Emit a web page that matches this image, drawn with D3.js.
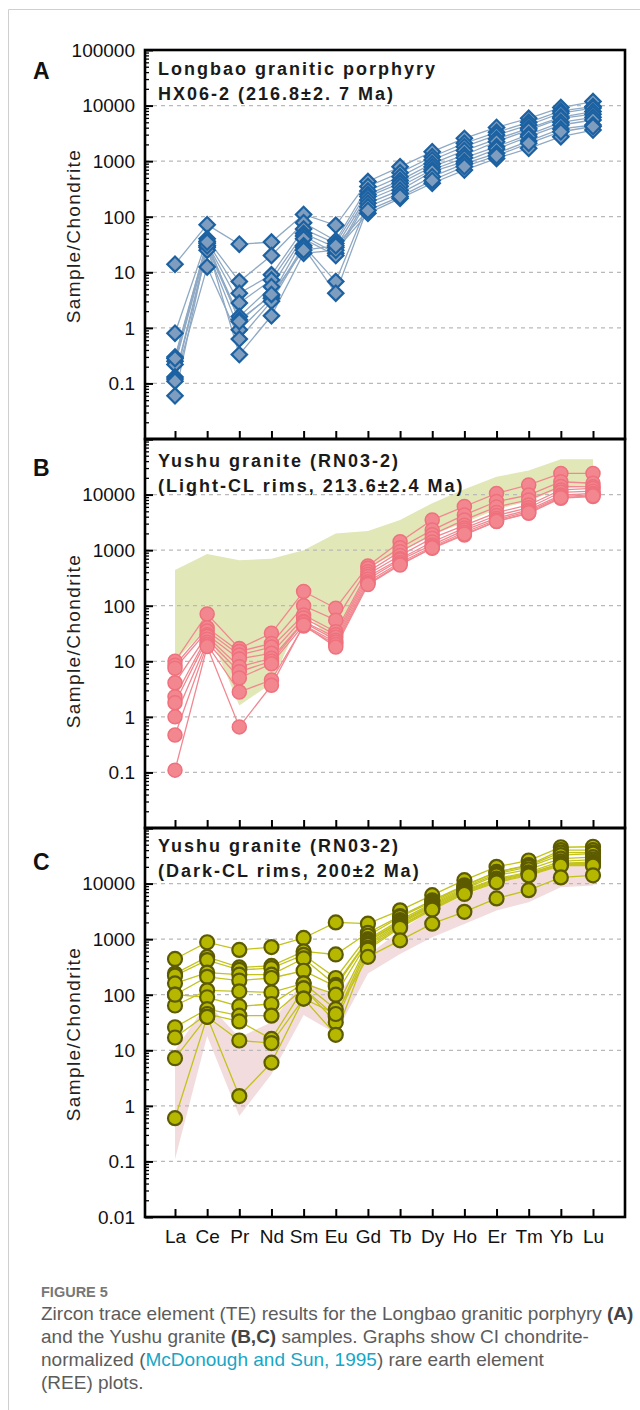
<!DOCTYPE html>
<html>
<head>
<meta charset="utf-8">
<script src="https://cdn.jsdelivr.net/npm/d3@7"></script>
<style>
  body { margin: 0; background: #fff; }
  svg text { font-family: "Liberation Sans", Arial, sans-serif; }
</style>
</head>
<body>
<div id="chart"></div>
<script>
// REE order along the x axis
const elements = ["La", "Ce", "Pr", "Nd", "Sm", "Eu", "Gd", "Tb", "Dy", "Ho", "Er", "Tm", "Yb", "Lu"];
const decades = [100000, 10000, 1000, 100, 10, 1, 0.1, 0.01];

// A: Longbao granitic porphyry HX06-2 (one row per zircon spot)
const seriesA = [
  [14, 72, 32, 35, 110, 70, 430, 790, 1480, 2570, 4050, 5900, 9200, 11800],
  [0.8, 40, 6.8, 20, 78, 37, 350, 620, 1200, 2100, 3300, 5000, 8000, 9600],
  [0.3, 36, 4.2, 9, 60, 33, 290, 525, 1050, 1820, 2950, 4470, 7300, 9000],
  [0.25, 33, 2.8, 7.3, 50, 28, 250, 450, 900, 1550, 2500, 3900, 6200, 7800],
  [0.22, 30, 1.6, 5.5, 45, 22, 230, 400, 794, 1290, 2240, 3630, 5900, 7000],
  [0.13, 28, 1.4, 3.8, 40, 20, 200, 350, 700, 1150, 1820, 3000, 5000, 6150],
  [0.12, 25, 0.92, 3.4, 30, 6.8, 174, 300, 646, 977, 1650, 2750, 4470, 5500],
  [0.11, 12.5, 0.63, 3.0, 28, 4.2, 151, 263, 525, 900, 1380, 2300, 3800, 4470],
  [0.06, 30, 0.33, 1.65, 22, 25, 115, 214, 400, 692, 1120, 1700, 2750, 3630],
  [0.28, 35, 1.3, 4.0, 25, 30, 130, 230, 450, 800, 1250, 2090, 3380, 4200]
];

// B: Yushu granite RN03-2, light-CL rims
const seriesB = [
  [10, 71, 17, 32, 180, 90, 520, 1420, 3500, 6100, 10500, 14900, 24000, 24000],
  [8.5, 40, 15, 21, 100, 55, 470, 1100, 2300, 4300, 7500, 9800, 17000, 16000],
  [7.5, 35, 13, 18, 68, 34, 410, 940, 1900, 3500, 6000, 8000, 14000, 13800],
  [4.1, 30, 11, 14, 60, 30, 370, 800, 1640, 2800, 4750, 6500, 12100, 12900],
  [2.3, 28, 8, 11.3, 52, 27, 334, 700, 1400, 2500, 4200, 5800, 11000, 11500],
  [1.8, 25, 6.5, 10, 50, 24, 300, 665, 1240, 2300, 3750, 5300, 9800, 10500],
  [1.0, 22, 5, 9, 45, 22, 270, 600, 1150, 2100, 3500, 5000, 9200, 10000],
  [0.47, 20, 2.8, 4.6, 43, 20, 250, 560, 1080, 1880, 3280, 4600, 8600, 9200],
  [0.11, 18.4, 0.66, 3.7, 45, 18, 240, 540, 1100, 1950, 3300, 4700, 8800, 9500]
];

// C: Yushu granite RN03-2, dark-CL rims
const seriesC = [
  [440, 880, 640, 720, 1050, 2000, 1900, 3300, 6200, 11500, 20000, 26000, 45000, 46000],
  [240, 480, 310, 330, 600, 530, 1300, 2600, 5000, 9300, 16200, 21400, 40000, 40000],
  [220, 420, 280, 300, 520, 200, 1150, 2500, 4700, 9000, 16000, 21000, 36000, 36000],
  [160, 250, 230, 230, 450, 150, 1000, 2200, 4400, 8500, 15000, 20000, 32400, 34500],
  [100, 210, 180, 200, 270, 140, 950, 2050, 4200, 8000, 14000, 18000, 28000, 30000],
  [64, 120, 115, 110, 160, 100, 900, 2000, 4000, 7600, 12300, 16000, 25000, 27000],
  [100, 90, 62, 68, 160, 55, 830, 1900, 3800, 7300, 12000, 15200, 23000, 24500],
  [26, 55, 42, 42, 130, 40, 780, 1770, 3600, 7000, 11500, 15000, 22900, 23000],
  [17, 45, 33, 16, 130, 32, 700, 1700, 3560, 6800, 11000, 14500, 22000, 22000],
  [7.2, 40, 15, 13.5, 85, 19, 650, 1600, 3400, 6500, 10500, 14000, 21000, 21000],
  [0.6, 40, 1.5, 6, 85, 45, 480, 950, 1900, 3100, 5400, 7600, 12900, 14100]
];

// shaded fields: dark-CL field behind B, light-CL field behind C
const fieldB_low  = [10, 40, 1.6, 4, 80, 19, 480, 950, 1900, 3100, 5400, 7600, 12900, 14000];
const fieldB_high = [440, 850, 660, 700, 1000, 2000, 2200, 3500, 7000, 12500, 21000, 27000, 43000, 43000];
const fieldC_low  = [0.11, 18, 0.66, 3.7, 43, 20, 240, 540, 1080, 1880, 3280, 4600, 8600, 9200];
const fieldC_high = [10, 71, 17, 32, 180, 90, 520, 1420, 3500, 6100, 10500, 14900, 24000, 24000];

const labelsA = [100000, 10000, 1000, 100, 10, 1, 0.1];
const labelsB = [10000, 1000, 100, 10, 1, 0.1];
const labelsC = [10000, 1000, 100, 10, 1, 0.1, 0.01];

const width = 640;
const height = 1410;
const boxLeft = 145, boxRight = 625, panelH = 389;

const svg = d3.select("#chart").append("svg")
  .attr("width", width)
  .attr("height", height);

// card outline
svg.append("path")
  .attr("d", "M8.5,1410 V9.5 H640")
  .attr("fill", "none")
  .attr("stroke", "#cfcfcf")
  .attr("stroke-width", 1);

const x = d3.scalePoint().domain(elements).range([175, 593]);

const minorTicks = [];
decades.forEach(d => {
  if (d < 100000) for (let k = 2; k <= 9; k++) minorTicks.push(d * k);
});

const panels = [
  { letter: "A", top: 50, data: seriesA, labels: labelsA, marker: "diamond",
    titles: ["Longbao granitic porphyry", "HX06-2 (216.8\u00b12. 7  Ma)"], titleY: [25, 50],
    letterY: 79, ytitleY: 236,
    line: "#8fa9c4", fill: "#7f9dbe", stroke: "#1c62a2", sw: 2.2 },
  { letter: "B", top: 439, data: seriesB, labels: labelsB, marker: "circle",
    titles: ["Yushu granite (RN03-2)", "(Light-CL rims, 213.6\u00b12.4 Ma)"], titleY: [28, 53],
    letterY: 476, ytitleY: 641,
    field: [fieldB_low, fieldB_high], fieldColor: "#e1e7b6",
    line: "#f18891", fill: "#f38790", stroke: "#ee717d", sw: 1.5 },
  { letter: "C", top: 828, data: seriesC, labels: labelsC, marker: "circle",
    titles: ["Yushu granite (RN03-2)", "(Dark-CL rims, 200\u00b12 Ma)"], titleY: [24, 49],
    letterY: 870, ytitleY: 1034,
    field: [fieldC_low, fieldC_high], fieldColor: "#f3dcdd",
    line: "#c3c31c", fill: "#b6b800", stroke: "#5d5b00", sw: 2.2, xlabels: true }
];

function drawPanel(p) {
  const bottom = p.top + panelH;
  const y = d3.scaleLog().domain([0.01, 100000]).range([bottom, p.top]);
  const g = svg.append("g");

  // shaded field of the other rim population
  if (p.field) {
    const area = d3.area()
      .x((d, i) => x(elements[i]))
      .y0((d, i) => y(p.field[0][i]))
      .y1((d, i) => y(p.field[1][i]));
    g.append("path")
      .datum(elements)
      .attr("d", area)
      .attr("fill", p.fieldColor);
  }

  // dashed gridlines at each decade
  g.selectAll(".grid")
    .data(decades.filter(d => d < 100000 && d > 0.01))
    .enter().append("line")
    .attr("x1", boxLeft).attr("x2", boxRight)
    .attr("y1", d => y(d)).attr("y2", d => y(d))
    .attr("stroke", "#b9b9b9")
    .attr("stroke-width", 1.3)
    .attr("stroke-dasharray", "4,4");

  // lines
  const line = d3.line()
    .x((d, i) => x(elements[i]))
    .y(d => y(d));
  g.selectAll(".spot")
    .data(p.data)
    .enter().append("path")
    .attr("d", line)
    .attr("fill", "none")
    .attr("stroke", p.line)
    .attr("stroke-width", 1.3);

  // markers
  p.data.forEach(row => {
    const pts = g.append("g").selectAll("path")
      .data(row)
      .enter();
    if (p.marker === "diamond") {
      pts.append("path")
        .attr("d", d3.symbol(d3.symbolSquare, 118))
        .attr("transform", (d, i) => `translate(${x(elements[i])},${y(d)}) rotate(45)`)
        .attr("fill", p.fill)
        .attr("stroke", p.stroke)
        .attr("stroke-width", p.sw);
    } else {
      pts.append("circle")
        .attr("cx", (d, i) => x(elements[i]))
        .attr("cy", d => y(d))
        .attr("r", 7)
        .attr("fill", p.fill)
        .attr("stroke", p.stroke)
        .attr("stroke-width", p.sw);
    }
  });

  // y axis: minor and major ticks pointing inward
  g.append("g")
    .attr("transform", `translate(${boxLeft},0)`)
    .call(d3.axisRight(y).tickValues(minorTicks).tickSize(4).tickFormat(""))
    .call(a => a.select(".domain").remove())
    .call(a => a.selectAll("line").attr("stroke", "#000").attr("stroke-width", 1.3));
  g.append("g")
    .attr("transform", `translate(${boxLeft},0)`)
    .call(d3.axisRight(y).tickValues(decades).tickSize(8).tickFormat(""))
    .call(a => a.select(".domain").remove())
    .call(a => a.selectAll("line").attr("stroke", "#000").attr("stroke-width", 2));

  // decade labels
  g.selectAll(".ylab")
    .data(p.labels)
    .enter().append("text")
    .attr("x", 135)
    .attr("y", d => y(d))
    .attr("dy", "0.36em")
    .attr("text-anchor", "end")
    .attr("font-size", 19)
    .attr("fill", "#111")
    .text(d => String(d));

  // x ticks inward from the bottom
  const xa = g.append("g")
    .attr("transform", `translate(0,${bottom})`)
    .call(d3.axisBottom(x).tickSize(-8).tickPadding(13)
      .tickFormat(p.xlabels ? (d => d) : ""));
  xa.select(".domain").remove();
  xa.selectAll("line").attr("stroke", "#000").attr("stroke-width", 2);
  xa.selectAll("text")
    .attr("font-size", 19)
    .attr("fill", "#111")
    .style("font-family", "'Liberation Sans', Arial, sans-serif");

  // frame
  g.append("rect")
    .attr("x", boxLeft).attr("y", p.top)
    .attr("width", boxRight - boxLeft).attr("height", panelH)
    .attr("fill", "none")
    .attr("stroke", "#000")
    .attr("stroke-width", 2.6);

  // panel title
  g.selectAll(".title")
    .data(p.titles)
    .enter().append("text")
    .attr("x", 158)
    .attr("y", (d, i) => p.top + p.titleY[i])
    .attr("font-size", 18)
    .attr("font-weight", "bold")
    .attr("letter-spacing", 2)
    .attr("fill", "#1a1a1a")
    .text(d => d);

  // panel letter
  g.append("text")
    .attr("x", 33)
    .attr("y", p.letterY)
    .attr("font-size", 23)
    .attr("font-weight", "bold")
    .attr("fill", "#111")
    .text(p.letter);

  // y axis title
  g.append("text")
    .attr("transform", `translate(80,${p.ytitleY}) rotate(-90)`)
    .attr("text-anchor", "middle")
    .attr("font-size", 19)
    .attr("letter-spacing", 1.4)
    .attr("fill", "#222")
    .text("Sample/Chondrite");
}

panels.forEach(drawPanel);

// caption
const cap = svg.append("g").style("font-family", "'Open Sans', 'Noto Sans', sans-serif");
cap.append("text")
  .attr("x", 41).attr("y", 1297)
  .attr("font-size", 14.5)
  .attr("font-weight", 600)
  .attr("fill", "#777")
  .text("FIGURE 5");

const capLines = [
  [["Zircon trace element (TE) results for the Longbao granitic porphyry ", 0], ["(A)", 1]],
  [["and the Yushu granite ", 0], ["(B,C)", 1], [" samples. Graphs show CI chondrite-", 0]],
  [["normalized (", 0], ["McDonough and Sun, 1995", 2], [") rare earth element", 0]],
  [["(REE) plots.", 0]]
];
const capStyle = [
  { fill: "#5c5c5c", weight: 400 },
  { fill: "#444", weight: 700 },
  { fill: "#17a6c6", weight: 400 }
];
capLines.forEach((parts, i) => {
  const t = cap.append("text")
    .attr("x", 41)
    .attr("y", 1320 + i * 23)
    .attr("font-size", 19);
  parts.forEach(([s, k]) => {
    t.append("tspan")
      .attr("fill", capStyle[k].fill)
      .attr("font-weight", capStyle[k].weight)
      .text(s);
  });
});
</script>
</body>
</html>
